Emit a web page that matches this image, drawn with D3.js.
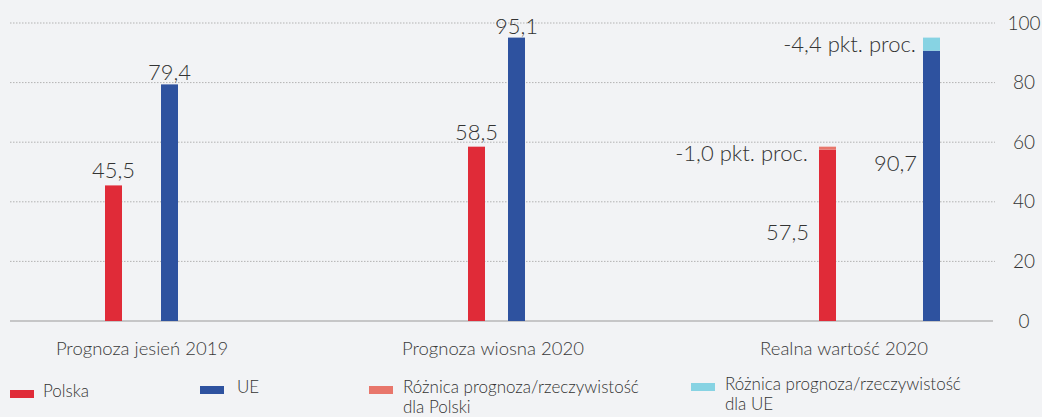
<!DOCTYPE html>
<html>
<head>
<meta charset="utf-8">
<script src="https://cdn.jsdelivr.net/npm/d3@7"></script>
<style>
  html, body { margin: 0; padding: 0; background: #f2f3f5; }
  svg { display: block; font-family: Lato, 'Open Sans', sans-serif; font-weight: 300; }
  .grid line { stroke: #b3b3b3; stroke-dasharray: 1.5,1.5; }
  .tick-label { font-size: 19px; fill: #333; }
  .value-label { font-size: 22px; fill: #333; }
  .cat-label { font-size: 18.5px; fill: #3a3a3a; }
  .legend-text { font-size: 17px; fill: #333; }
</style>
</head>
<body>
<div class="visualisation"></div>
<script>
const categories = ['Prognoza jesień 2019', 'Prognoza wiosna 2020', 'Realna wartość 2020'];
const polska = [45.5, 58.5, 57.5];
const ue = [79.4, 95.1, 90.7];
const diffPolska = [0, 0, 1.0];
const diffUe = [0, 0, 4.4];
const yTicks = [0, 20, 40, 60, 80, 100];
const legendLabels = [['Polska'], ['UE'], ['Różnica prognoza/rzeczywistość', 'dla Polski'], ['Różnica prognoza/rzeczywistość', 'dla UE']];

const svgWidth = 1042;
const svgHeight = 417;

const colors = { polska: '#e02b38', ue: '#2e529f', diffPolska: '#e8766b', diffUe: '#87d3e3' };

// bar layout inside each category (pixel offsets from category centre)
const barWidth = 17;
const redOffset = [-28.5, -16.5, -16.5];
const blueOffset = [27.5, 23.5, 87.5];

const xScale = d3.scalePoint().domain(categories).range([142, 844]);
const yScale = d3.scaleLinear().domain([0, 100]).range([321, 23]);

const fmt = (v) => d3.format('.1f')(v).replace('.', ',');

const svg = d3
    .select('.visualisation')
    .append('svg')
    .attr('width', svgWidth)
    .attr('height', svgHeight);

// gridlines
svg.append('g')
    .attr('class', 'grid')
    .selectAll('line')
    .data(yTicks.filter((t) => t > 0))
    .join('line')
    .attr('x1', 10)
    .attr('x2', 995)
    .attr('y1', (d) => yScale(d))
    .attr('y2', (d) => yScale(d));

// baseline
svg.append('line')
    .attr('x1', 10)
    .attr('x2', 993)
    .attr('y1', yScale(0))
    .attr('y2', yScale(0))
    .attr('stroke', '#9a9a9a')
    .attr('stroke-width', 1.2);

// y tick labels on the right
svg.append('g')
    .selectAll('text')
    .data(yTicks)
    .join('text')
    .attr('class', 'tick-label')
    .attr('x', 1024)
    .attr('y', (d) => yScale(d))
    .attr('dy', '0.35em')
    .attr('text-anchor', 'middle')
    .text((d) => d);

const rows = categories.map((c, i) => ({
    cat: c,
    i: i,
    polska: polska[i],
    ue: ue[i],
    diffPolska: diffPolska[i],
    diffUe: diffUe[i]
}));

const redX = (d) => xScale(d.cat) + redOffset[d.i] - barWidth / 2;
const blueX = (d) => xScale(d.cat) + blueOffset[d.i] - barWidth / 2;

const group = svg.selectAll('g.cat').data(rows).join('g').attr('class', 'cat');

// main bars
group.append('rect')
    .attr('x', redX)
    .attr('y', (d) => yScale(d.polska))
    .attr('width', barWidth)
    .attr('height', (d) => yScale(0) - yScale(d.polska))
    .attr('fill', colors.polska);

group.append('rect')
    .attr('x', blueX)
    .attr('y', (d) => yScale(d.ue))
    .attr('width', barWidth)
    .attr('height', (d) => yScale(0) - yScale(d.ue))
    .attr('fill', colors.ue);

// difference segments stacked on top
group.filter((d) => d.diffPolska > 0)
    .append('rect')
    .attr('x', redX)
    .attr('y', (d) => yScale(d.polska + d.diffPolska))
    .attr('width', barWidth)
    .attr('height', (d) => yScale(d.polska) - yScale(d.polska + d.diffPolska))
    .attr('fill', colors.diffPolska);

group.filter((d) => d.diffUe > 0)
    .append('rect')
    .attr('x', blueX)
    .attr('y', (d) => yScale(d.ue + d.diffUe))
    .attr('width', barWidth)
    .attr('height', (d) => yScale(d.ue) - yScale(d.ue + d.diffUe))
    .attr('fill', colors.diffUe);

// value labels above bars (forecast groups)
const forecast = group.filter((d) => d.diffPolska === 0 && d.diffUe === 0);

forecast.append('text')
    .attr('class', 'value-label')
    .attr('x', (d) => redX(d) + barWidth / 2)
    .attr('y', (d) => yScale(d.polska) - 7)
    .attr('text-anchor', 'middle')
    .text((d) => fmt(d.polska));

forecast.append('text')
    .attr('class', 'value-label')
    .attr('x', (d) => blueX(d) + barWidth / 2)
    .attr('y', (d) => yScale(d.ue) - 4)
    .attr('text-anchor', 'middle')
    .text((d) => fmt(d.ue));

// labels for the real-value group, to the left of the bars
const real = group.filter((d) => d.diffPolska > 0 || d.diffUe > 0);

real.append('text')
    .attr('class', 'value-label')
    .attr('x', (d) => redX(d) - 11)
    .attr('y', (d) => yScale(d.polska + d.diffPolska) + 14)
    .attr('text-anchor', 'end')
    .text((d) => `-${fmt(d.diffPolska)} pkt. proc.`);

real.append('text')
    .attr('class', 'value-label')
    .attr('x', (d) => blueX(d) - 7)
    .attr('y', (d) => yScale(d.ue + d.diffUe) + 14)
    .attr('text-anchor', 'end')
    .text((d) => `-${fmt(d.diffUe)} pkt. proc.`);

real.append('text')
    .attr('class', 'value-label')
    .attr('x', (d) => redX(d) - 10)
    .attr('y', (d) => yScale(d.polska) + 90)
    .attr('text-anchor', 'end')
    .text((d) => fmt(d.polska));

real.append('text')
    .attr('class', 'value-label')
    .attr('x', (d) => blueX(d) - 6)
    .attr('y', (d) => yScale(d.ue) + 120)
    .attr('text-anchor', 'end')
    .text((d) => fmt(d.ue));

// category labels
svg.append('g')
    .selectAll('text')
    .data(categories)
    .join('text')
    .attr('class', 'cat-label')
    .attr('x', (d) => xScale(d))
    .attr('y', 355)
    .attr('text-anchor', 'middle')
    .text((d) => d);

// legend
const legendX = [10, 200, 369, 691];
const legendY = [394, 390, 390, 387];
const legendColors = [colors.polska, colors.ue, colors.diffPolska, colors.diffUe];

const legend = svg.selectAll('g.legend')
    .data(legendLabels)
    .join('g')
    .attr('class', 'legend')
    .attr('transform', (d, i) => `translate(${legendX[i]},${legendY[i]})`);

legend.append('rect')
    .attr('x', 0)
    .attr('y', -4)
    .attr('width', 24)
    .attr('height', 8)
    .attr('fill', (d, i) => legendColors[i]);

// one text element per line
legend.selectAll('text')
    .data((d) => d)
    .join('text')
    .attr('class', 'legend-text')
    .attr('x', function () {
        const i = legendLabels.indexOf(d3.select(this.parentNode).datum());
        return i === 0 ? 33 : i === 1 ? 37 : 34;
    })
    .attr('y', (d, i) => 3 + i * 20)
    .text((d) => d);
</script>
</body>
</html>
